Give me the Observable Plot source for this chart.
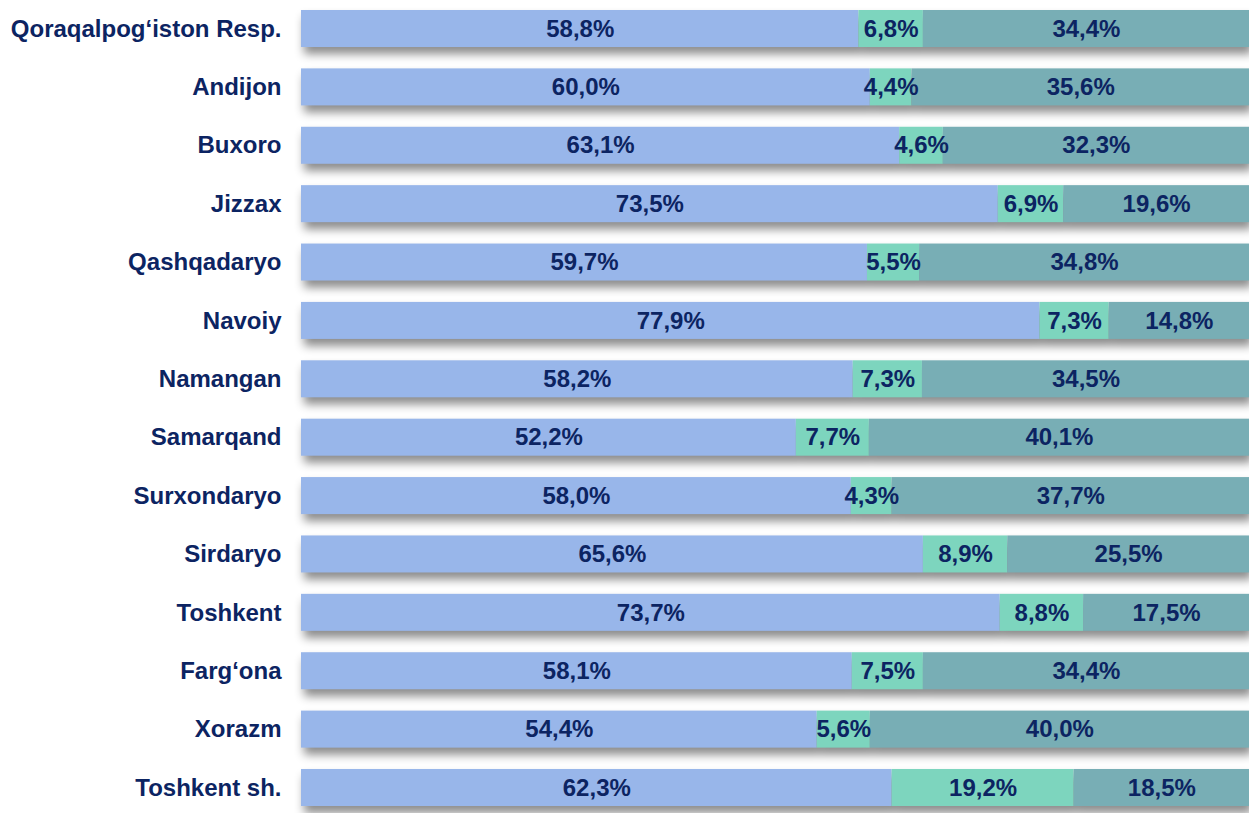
<!DOCTYPE html>
<html>
<head>
<meta charset="utf-8">
<script src="https://cdn.jsdelivr.net/npm/d3@7"></script>
<script src="https://cdn.jsdelivr.net/npm/@observablehq/plot@0.6"></script>
<style>
  html, body { margin: 0; padding: 0; background: #fff; }
  #chart svg { display: block; }
</style>
</head>
<body>
<div id="chart"></div>
<script>
const regions = ["Qoraqalpog‘iston Resp.", "Andijon", "Buxoro", "Jizzax", "Qashqadaryo", "Navoiy", "Namangan", "Samarqand", "Surxondaryo", "Sirdaryo", "Toshkent", "Farg‘ona", "Xorazm", "Toshkent sh."];
const series = ["A", "B", "C"];
const valuesA = [58.8, 60.0, 63.1, 73.5, 59.7, 77.9, 58.2, 52.2, 58.0, 65.6, 73.7, 58.1, 54.4, 62.3];
const valuesB = [6.8, 4.4, 4.6, 6.9, 5.5, 7.3, 7.3, 7.7, 4.3, 8.9, 8.8, 7.5, 5.6, 19.2];
const valuesC = [34.4, 35.6, 32.3, 19.6, 34.8, 14.8, 34.5, 40.1, 37.7, 25.5, 17.5, 34.4, 40.0, 18.5];
const colors = ["#98b6ea", "#7dd5be", "#78aeb5"];

const allValues = [valuesA, valuesB, valuesC];
const data = [];
regions.forEach((r, i) => {
  series.forEach((s, j) => data.push({region: r, type: s, value: allValues[j][i]}));
});
const fmt = v => d3.format(".1f")(v).replace(".", ",") + "%";
const textColor = "#0c2462";

const chart = Plot.plot({
  width: 1249,
  height: 813,
  marginLeft: 301,
  marginRight: 0,
  marginTop: 10,
  marginBottom: 7,
  style: {fontFamily: "'Liberation Sans', Arial, sans-serif", background: "#fff"},
  x: {domain: [0, 100], axis: null},
  y: {domain: regions, padding: 0.366, paddingOuter: 0, round: false, label: null, tickSize: 0, tickPadding: 20},
  color: {domain: series, range: colors},
  marks: [
    Plot.barX(data, Plot.stackX({x: "value", y: "region", fill: "type", order: null})),
    Plot.text(data, Plot.stackX({x: "value", y: "region", z: "type", order: null, text: d => fmt(d.value), fill: textColor, fontSize: 24, fontWeight: "bold"})),
    Plot.axisY({tickSize: 0, tickPadding: 20, fontSize: 24, fontWeight: "bold", fill: textColor, label: null})
  ]
});
document.getElementById("chart").appendChild(chart);
const barG = chart.querySelector('g[aria-label="bar"]');
if (barG) barG.style.filter = "drop-shadow(3px 7px 5px rgba(0,0,0,0.45))";
</script>
</body>
</html>
